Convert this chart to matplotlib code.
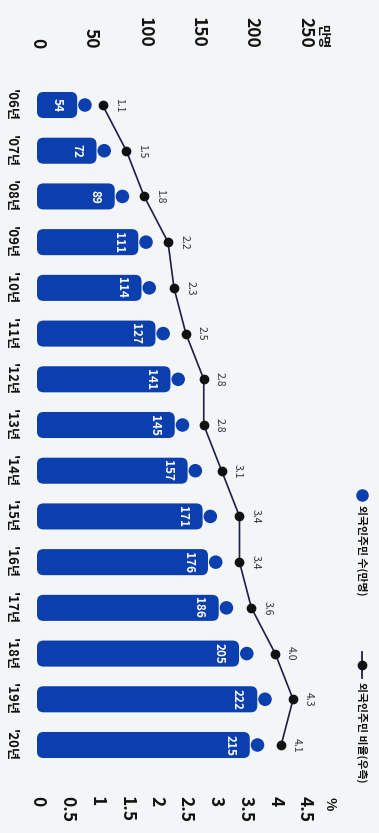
import matplotlib
matplotlib.use('Agg')
import matplotlib.pyplot as plt
from matplotlib.patches import FancyBboxPatch
from matplotlib.lines import Line2D
import numpy as np

plt.rcParams['font.family'] = ['Noto Sans CJK KR', 'DejaVu Sans']

# foreign residents in Korea, 2006-2020 (chart is printed rotated 90 degrees)
years = ["'06년", "'07년", "'08년", "'09년", "'10년", "'11년", "'12년", "'13년",
         "'14년", "'15년", "'16년", "'17년", "'18년", "'19년", "'20년"]
residents = [54, 72, 89, 111, 114, 127, 141, 145, 157, 171, 176, 186, 205, 222, 215]
ratio = [1.1, 1.5, 1.8, 2.2, 2.3, 2.5, 2.8, 2.8, 3.1, 3.4, 3.4, 3.6, 4.0, 4.3, 4.1]
count_ticks = [0, 50, 100, 150, 200, 250]
ratio_ticks = [0, 0.5, 1, 1.5, 2, 2.5, 3, 3.5, 4, 4.5]
ratio_tick_labels = ['0', '0.5', '1', '1.5', '2', '2.5', '3', '3.5', '4', '4.5']

BLUE = '#0b3fae'
LINE = '#1b1f4a'
BG = '#f3f5f7'

W, H = 379, 833
fig = plt.figure(figsize=(W / 100, H / 100), dpi=100, facecolor=BG)

# axes placed in pixel terms
left, right, top, bottom = 37, 305, 55, 785
ax = fig.add_axes([left / W, 1 - bottom / H, (right - left) / W, (bottom - top) / H])
ax.set_facecolor('none')
ax.set_xlim(0, 250)
ax.set_ylim(14.875, -1.094)
ax2 = ax.twiny()
ax2.set_xlim(0, 4.5)

idx = np.arange(len(years))

# bars drawn as "person" icons: rounded body + round head
bar_h = 0.57
for i, v in zip(idx, residents):
    body = FancyBboxPatch((0, i - bar_h / 2), v - 16.5, bar_h,
                          boxstyle='round,pad=0,rounding_size=6',
                          mutation_aspect=0.0234,
                          facecolor=BLUE, edgecolor='none')
    ax.add_patch(body)
    ax.text(v - 35, i, str(v), rotation=-90, color='white', fontsize=8.5,
            fontweight='bold', ha='center', va='center')
ax.scatter(np.array(residents) - 9.3, idx, s=95, color=BLUE, zorder=3,
           edgecolors='none')

ax.xaxis.tick_top()
ax.set_xticks(count_ticks)
ax.set_xticklabels([str(t) for t in count_ticks], rotation=-90, fontsize=12.5,
                   fontweight='bold', color='#111')
ax.tick_params(axis='x', length=0, pad=5)
ax.set_yticks(idx)
ax.set_yticklabels(years, rotation=-90, fontsize=9.5, fontweight='bold',
                   color='#111', va='center', ha='right')
ax.tick_params(axis='y', length=0, pad=14)
for s in ax.spines.values():
    s.set_visible(False)

# ratio line on the twin axis
ax2.xaxis.tick_bottom()
ax2.plot(ratio, idx, color=LINE, lw=1.2, marker='o', ms=6,
         mfc='#111', mec='#111', zorder=4)
for i, r in zip(idx, ratio):
    ax2.text(r + 0.27, i, f'{r:.1f}', rotation=-90, fontsize=7.5,
             color='#333', ha='center', va='center')
ax2.set_xticks(ratio_ticks)
ax2.set_xticklabels(ratio_tick_labels, rotation=-90, fontsize=12.5,
                    fontweight='bold', color='#111')
ax2.tick_params(axis='x', length=0, pad=8)
for s in ax2.spines.values():
    s.set_visible(False)

# unit labels
fig.text(322 / W, 1 - 48 / H, '만명', rotation=-90, fontsize=9.5,
         fontweight='bold', color='#111', ha='center', va='bottom')
fig.text(330 / W, 1 - 797 / H, '%', rotation=-90, fontsize=10,
         fontweight='bold', color='#111', ha='center', va='top')

# legend (rotated, down the right side)
lx = 362 / W
fig.add_artist(Line2D([lx], [1 - 495 / H], marker='o', ms=8, color=BLUE,
                      linestyle='none'))
fig.text(lx, 1 - 505 / H, '외국인주민 수(만명)', rotation=-90, fontsize=7.8,
         fontweight='bold', color='#111', ha='center', va='top')
fig.add_artist(Line2D([lx, lx], [1 - 652 / H, 1 - 678 / H], color=LINE, lw=1.3))
fig.add_artist(Line2D([lx], [1 - 665 / H], marker='o', ms=6, color='#111',
                      linestyle='none'))
fig.text(lx, 1 - 682 / H, '외국인주민 비율(우측)', rotation=-90, fontsize=7.8,
         fontweight='bold', color='#111', ha='center', va='top')

fig.savefig('out.png', dpi=100, facecolor=BG)
